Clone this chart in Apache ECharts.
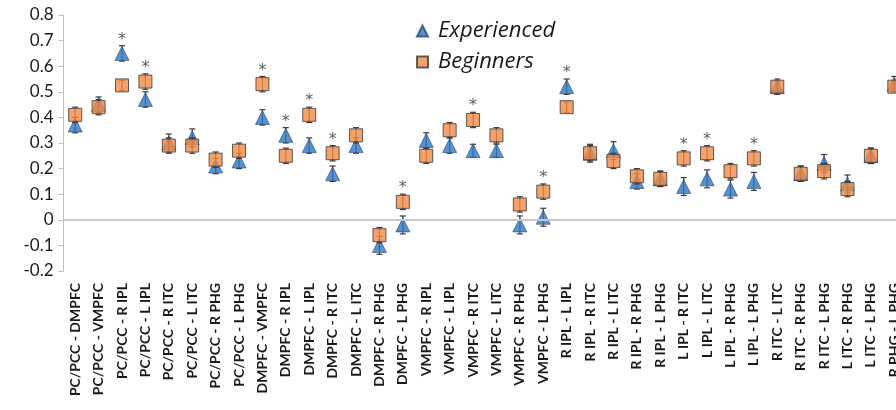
<!DOCTYPE html>
<html>
<head>
<meta charset="utf-8">
<script src="https://cdn.jsdelivr.net/npm/echarts@6/dist/echarts.min.js"></script>
<style>html,body{margin:0;padding:0;background:#fff}#c{width:896px;height:410px}</style>
</head>
<body>
<div id="c"></div>
<script>
var categories = ["PC/PCC - DMPFC","PC/PCC - VMPFC","PC/PCC - R IPL","PC/PCC - L IPL","PC/PCC - R ITC","PC/PCC - L ITC","PC/PCC - R PHG","PC/PCC - L PHG","DMPFC - VMPFC","DMPFC - R IPL","DMPFC - L IPL","DMPFC - R ITC","DMPFC - L ITC","DMPFC - R PHG","DMPFC - L PHG","VMPFC - R IPL","VMPFC - L IPL","VMPFC - R ITC","VMPFC - L ITC","VMPFC - R PHG","VMPFC - L PHG","R IPL - L IPL","R IPL - R ITC","R IPL - L ITC","R IPL - R PHG","R IPL - L PHG","L IPL - R ITC","L IPL - L ITC","L IPL - R PHG","L IPL - L PHG","R ITC - L ITC","R ITC - R PHG","R ITC - L PHG","L ITC - R PHG","L ITC - L PHG","R PHG - L PHG"];
var experienced = [0.37,0.45,0.65,0.47,0.30,0.32,0.21,0.23,0.40,0.33,0.29,0.18,0.29,-0.10,-0.02,0.31,0.29,0.27,0.27,-0.02,0.01,0.52,0.26,0.27,0.15,0.16,0.13,0.16,0.12,0.15,0.52,0.18,0.22,0.14,0.25,0.53];
var experiencedErr = [0.03,0.03,0.03,0.03,0.035,0.035,0.03,0.03,0.03,0.03,0.03,0.03,0.03,0.035,0.035,0.03,0.03,0.025,0.025,0.035,0.035,0.03,0.035,0.035,0.03,0.03,0.035,0.035,0.035,0.035,0.03,0.03,0.035,0.035,0.03,0.03];
var beginners = [0.41,0.44,0.525,0.54,0.29,0.29,0.235,0.27,0.53,0.25,0.41,0.26,0.33,-0.06,0.07,0.25,0.35,0.39,0.33,0.06,0.11,0.44,0.26,0.23,0.17,0.16,0.24,0.26,0.19,0.24,0.52,0.18,0.19,0.12,0.25,0.52];
var beginnersErr = [0.03,0.03,0.02,0.03,0.03,0.03,0.03,0.03,0.03,0.03,0.03,0.03,0.03,0.03,0.03,0.03,0.03,0.03,0.03,0.03,0.03,0.02,0.03,0.03,0.03,0.03,0.03,0.03,0.03,0.03,0.02,0.03,0.03,0.03,0.03,0.02];
var significant = [2,3,8,9,10,11,14,17,20,21,26,27,29];
var yTicks = {min:-0.2, max:0.8, interval:0.1};

var BLUE = '#2e77c2', ORANGE = '#f28a45', EDGE = '#3a3a3a';

function errData(vals, errs){ return vals.map(function(v,i){ return [i, v, errs[i]]; }); }
function errRender(params, api){
  var x = api.value(0), v = api.value(1), e = api.value(2);
  var top = api.coord([x, v + e]), bot = api.coord([x, v - e]);
  var w = 3;
  var st = {stroke: EDGE, lineWidth: 1.2};
  return {type:'group', children:[
    {type:'line', shape:{x1:top[0],y1:top[1],x2:bot[0],y2:bot[1]}, style:st},
    {type:'line', shape:{x1:top[0]-w,y1:top[1],x2:top[0]+w,y2:top[1]}, style:st},
    {type:'line', shape:{x1:bot[0]-w,y1:bot[1],x2:bot[0]+w,y2:bot[1]}, style:st}
  ]};
}
var starData = significant.map(function(i){
  return [i, Math.max(experienced[i]+experiencedErr[i], beginners[i]+beginnersErr[i])];
});

var chart = echarts.init(document.getElementById('c'));
chart.setOption({
  animation:false,
  textStyle:{fontFamily:'Lato, "Open Sans", sans-serif'},
  grid:{left:63.5, right:-10, top:15, bottom:139, outerBoundsMode:'none', containLabel:false},
  legend:{
    orient:'vertical', left:416, top:20, padding:0, itemGap:9, itemWidth:11, itemHeight:11,
    textStyle:{fontSize:22, fontStyle:'italic', color:'#1a1a1a', padding:[0,0,0,5], fontFamily:'"Open Sans", Lato, sans-serif'},
    data:[{name:'Experienced', icon:'triangle'},{name:'Beginners', icon:'rect'}]
  },
  xAxis:{
    type:'category', data:categories, boundaryGap:true,
    axisLine:{show:false}, axisTick:{show:false},
    axisLabel:{rotate:90, interval:0, margin:12, fontSize:14, fontWeight:'bold', color:'#1a1a1a'}
  },
  yAxis:{
    type:'value', min:yTicks.min, max:yTicks.max, interval:yTicks.interval,
    axisLine:{show:true, lineStyle:{color:'#bfbfbf', width:1}},
    axisTick:{show:true, length:5, lineStyle:{color:'#bfbfbf'}},
    splitLine:{show:false},
    axisLabel:{fontSize:17, color:'#1a1a1a', margin:10, formatter:function(v){ return String(Math.round(v*10)/10); }}
  },
  series:[
    {type:'custom', name:'errE', renderItem:errRender, data:errData(experienced, experiencedErr), z:2, silent:true,
     markLine:{silent:true, symbol:'none', label:{show:false}, lineStyle:{color:'#c8c8c8', width:2, type:'solid'}, data:[{yAxis:0}]}},
    {type:'scatter', name:'Experienced', symbol:'triangle', symbolSize:14, z:3,
     itemStyle:{color:BLUE, borderColor:'#2a4d73', borderWidth:0.8},
     data:experienced.map(function(v,i){ return [i,v]; })},
    {type:'custom', name:'errB', renderItem:errRender, data:errData(beginners, beginnersErr), z:4, silent:true},
    {type:'scatter', name:'Beginners', symbol:'rect', symbolSize:13, z:5,
     itemStyle:{color:ORANGE, borderColor:EDGE, borderWidth:1},
     data:beginners.map(function(v,i){ return [i,v]; })},
    {type:'scatter', name:'sig', symbolSize:0, z:6, silent:true,
     label:{show:true, position:'top', distance:-2, formatter:'*', fontSize:16, color:'#333', fontFamily:'"DejaVu Sans", sans-serif'},
     data:starData}
  ]
});
</script>
</body>
</html>
